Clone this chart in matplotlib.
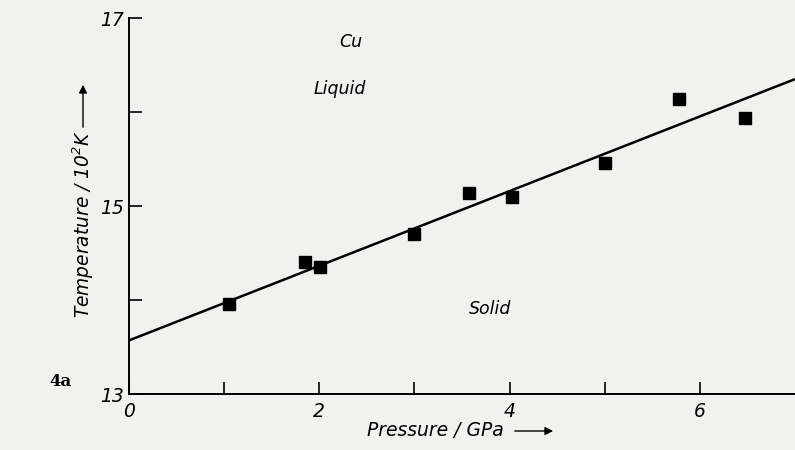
import matplotlib.pyplot as plt

# Messwerte (Druck in GPa, Temperatur in 10^2 K)
druck = [1.05, 1.85, 2.01, 3.0, 3.57, 4.03, 5.0, 5.78, 6.47]
temperatur = [13.96, 14.40, 14.35, 14.70, 15.14, 15.10, 15.46, 16.14, 15.94]

# Ausgleichsgerade
gerade_x = [0.0, 7.0]
gerade_y = [13.57, 16.35]

x_ticks = [0, 1, 2, 3, 4, 5, 6]
x_labels = ['0', '', '2', '', '4', '', '6']
y_ticks = [13, 14, 15, 16, 17]
y_labels = ['13', '', '15', '', '17']

bg = '#f1f1f0'
plt.rcParams['font.family'] = ['DejaVu Sans']
plt.rcParams['font.style'] = 'italic'

fig = plt.figure(figsize=(7.95, 4.5), dpi=100, facecolor=bg)
ax = fig.add_axes([129 / 795, 1 - 394 / 450, 1 - 129 / 795, 376 / 450])
ax.set_facecolor(bg)

ax.plot(gerade_x, gerade_y, color='black', lw=1.8, solid_capstyle='butt')
ax.plot(druck, temperatur, 's', color='black', markersize=9)

ax.set_xlim(0, 7.0)
ax.set_ylim(13, 17)
for s in ['top', 'right']:
    ax.spines[s].set_visible(False)
for s in ['left', 'bottom']:
    ax.spines[s].set_linewidth(1.4)

ax.set_xticks(x_ticks)
ax.set_xticklabels(x_labels)
ax.set_yticks(y_ticks)
ax.set_yticklabels(y_labels)
ax.tick_params(direction='in', length=9, width=1.2, labelsize=13.5, pad=6)
ax.tick_params(axis='y', pad=4)

ax.text(2.33, 16.74, 'Cu', ha='center', va='center', fontsize=12.5)
ax.text(2.22, 16.24, 'Liquid', ha='center', va='center', fontsize=12.5)
ax.text(3.8, 13.9, 'Solid', ha='center', va='center', fontsize=12.5)

fig.text(367 / 795, 1 - 430 / 450, 'Pressure / GPa', ha='left', va='center', fontsize=13.5)
fig.patches.append(plt.matplotlib.patches.FancyArrowPatch(
    (512 / 795, 1 - 431 / 450), (556 / 795, 1 - 431 / 450),
    transform=fig.transFigure, arrowstyle='-|>', mutation_scale=12, color='black', lw=1))

fig.text(83 / 795, 1 - 224 / 450, 'Temperature / 10$^2$K', rotation=90,
         ha='center', va='center', fontsize=13.4)
fig.patches.append(plt.matplotlib.patches.FancyArrowPatch(
    (83 / 795, 1 - 130 / 450), (83 / 795, 1 - 82 / 450),
    transform=fig.transFigure, arrowstyle='-|>', mutation_scale=12, color='black', lw=1))

fig.text(60 / 795, 1 - 382 / 450, '4a', family='DejaVu Serif', style='normal',
         fontweight='bold', ha='center', va='center', fontsize=12)

fig.savefig('out.png', dpi=100, facecolor=bg)
